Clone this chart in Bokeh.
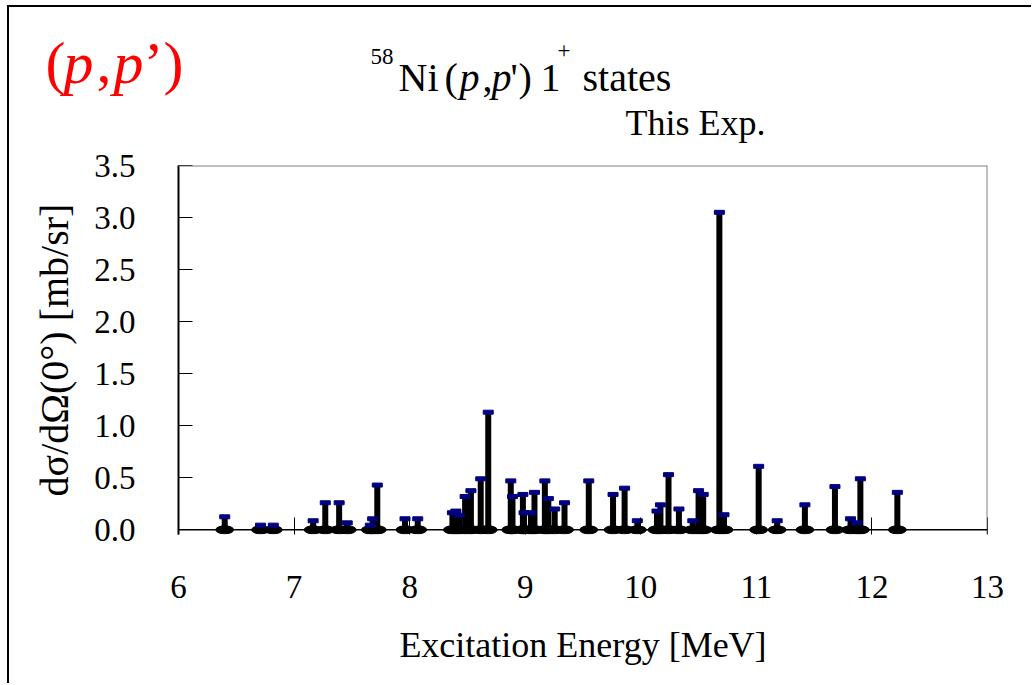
from bokeh.plotting import figure
from bokeh.layouts import column
from bokeh.models import FixedTicker, Span, PrintfTickFormatter
from bokeh.core.properties import value
from bokeh.embed import file_html
from bokeh.resources import INLINE

# ---- data ----
energies = [6.40, 6.71, 6.82, 7.165, 7.27, 7.39, 7.46, 7.66, 7.68, 7.72,
            7.96, 8.07, 8.37, 8.40, 8.43, 8.48, 8.53, 8.615, 8.68, 8.875,
            8.89, 8.98, 8.99, 9.05, 9.08, 9.17, 9.20, 9.255, 9.34, 9.55,
            9.76, 9.86, 9.97, 10.14, 10.17, 10.24, 10.33, 10.45, 10.50, 10.54,
            10.68, 10.72, 11.02, 11.18, 11.42, 11.68, 11.815, 11.87, 11.90, 12.22]
cross_sections = [0.125, 0.045, 0.045, 0.087, 0.26, 0.26, 0.067, 0.045, 0.106, 0.43,
                  0.106, 0.106, 0.164, 0.18, 0.14, 0.32, 0.376, 0.49, 1.13, 0.47,
                  0.32, 0.34, 0.164, 0.164, 0.36, 0.47, 0.30, 0.20, 0.26, 0.47,
                  0.34, 0.40, 0.087, 0.18, 0.24, 0.53, 0.20, 0.087, 0.376, 0.34,
                  3.05, 0.145, 0.61, 0.087, 0.24, 0.415, 0.106, 0.067, 0.49, 0.36]
x_ticks = [6, 7, 8, 9, 10, 11, 12, 13]
y_ticks = [0.0, 0.5, 1.0, 1.5, 2.0, 2.5, 3.0, 3.5]
zeros = [0.0] * len(energies)

FONT = "Liberation Serif"
GLYPH_FONT = "'Liberation Serif', 'Times New Roman', serif"
W = 1022
HEAD_H = 139

# ---- header with the texts above the chart ----
head = figure(width=W, height=HEAD_H, x_range=(0, W), y_range=(HEAD_H, 0),
              output_backend="svg", toolbar_location=None, min_border=0,
              x_axis_type=None, y_axis_type=None)
head.frame_align = False
head.outline_line_color = None
head.xgrid.visible = False
head.ygrid.visible = False
head.background_fill_color = "white"
head.border_fill_color = "white"


def add_text(txt, X, Y, size, style="normal", color="black"):
    head.text(x=[X], y=[Y], text=[txt], text_font=value(GLYPH_FONT),
              text_font_size=value(size), text_font_style=style,
              text_color=color, text_align="left", text_baseline="alphabetic")


RED = "#FF0000"
add_text("(", 36, 55, "60px", color=RED)
add_text("p", 54, 55, "60px", "italic", RED)
add_text(",", 87, 55, "60px", color=RED)
add_text("p", 104, 55, "60px", "italic", RED)
add_text("\u2019", 134, 55, "60px", color=RED)
add_text(")", 154, 55, "60px", color=RED)

add_text("58", 361, 49, "23px")
add_text("Ni", 389, 70, "40px")
add_text("(", 435, 70, "40px")
add_text("p", 450, 70, "40px", "italic")
add_text(",", 473, 70, "40px")
add_text("p", 482, 70, "40px", "italic")
add_text("'", 501, 70, "40px")
add_text(")", 509, 70, "40px")
add_text("1", 531, 70, "40px")
add_text("+", 548, 43, "23px")
add_text("states", 573, 70, "40px")
add_text("This Exp.", 616, 115, "36px")

# ---- main chart ----
p = figure(width=W, height=537, output_backend="svg", toolbar_location=None,
           x_range=(x_ticks[0], x_ticks[-1]), y_range=(-0.045, y_ticks[-1]),
           min_border_left=169, min_border_right=44, min_border_top=19,
           min_border_bottom=149)
p.frame_align = False

p.xgrid.visible = False
p.ygrid.visible = False
p.outline_line_color = None
p.background_fill_color = "white"
p.border_fill_color = "white"

p.xaxis.ticker = FixedTicker(ticks=x_ticks)
p.yaxis.ticker = FixedTicker(ticks=y_ticks)
p.yaxis.formatter = PrintfTickFormatter(format="%.1f")
for ax in (p.xaxis, p.yaxis):
    ax.major_tick_in = 14
    ax.major_tick_out = 0
    ax.minor_tick_in = 0
    ax.minor_tick_out = 0
    ax.major_tick_line_color = "black"
    ax.major_tick_line_width = 1
    ax.major_label_text_font = FONT
    ax.major_label_text_font_size = "33px"
    ax.major_label_text_color = "black"
    ax.axis_label_text_font = FONT
    ax.axis_label_text_font_style = "normal"
    ax.axis_label_text_color = "black"
p.xaxis.axis_label_text_font_size = "36px"
p.yaxis.axis_label_text_font_size = "40px"
p.xaxis.major_tick_in = 17
p.xaxis.axis_line_color = None
p.yaxis.axis_line_color = "black"
p.yaxis.axis_line_width = 2
p.xaxis.major_label_standoff = 41
p.yaxis.major_label_standoff = 43
p.xaxis.axis_label = "Excitation Energy [MeV]"
p.yaxis.axis_label = "dσ/dΩ(0°) [mb/sr]"
p.xaxis.axis_label_standoff = 24
p.yaxis.axis_label_standoff = 14

p.add_layout(Span(location=y_ticks[-1], dimension="width", line_color="#808080", line_width=2))
p.add_layout(Span(location=x_ticks[-1], dimension="height", line_color="#808080", line_width=2))
p.add_layout(Span(location=0, dimension="width", line_color="black", line_width=1.5))

p.segment(x0=energies, y0=zeros, x1=energies, y1=cross_sections,
          line_color="black", line_width=6, line_cap="butt")
p.ellipse(x=energies, y=zeros, width=18, height=8, width_units="screen",
          height_units="screen", fill_color="black", line_color="black")
p.rect(x=energies, y=cross_sections, width=10, height=4, width_units="screen",
       height_units="screen", fill_color="#000080", line_color="#000080")

layout = column(head, p, spacing=0,
                styles={"margin-left": "7px", "margin-top": "5px",
                        "border-left": "2px solid black",
                        "border-top": "2px solid black"})

open("out.html", "w").write(file_html(layout, INLINE))
